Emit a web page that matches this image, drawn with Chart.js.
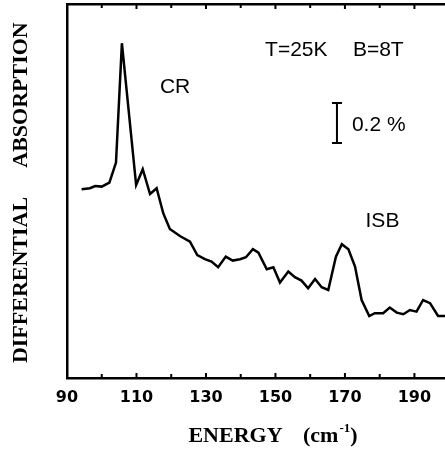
<!DOCTYPE html>
<html>
<head>
<meta charset="utf-8">
<script src="https://cdn.jsdelivr.net/npm/chart.js@4/dist/chart.umd.min.js"></script>
<style>
  html, body { margin: 0; padding: 0; background: #fff; }
  #wrap { width: 445px; height: 450px; }
</style>
</head>
<body>
<div id="wrap"><canvas id="spectrum" width="445" height="450"></canvas></div>
<script>
// 能量 (cm-1)
const energy = [94.2, 96.6, 98.1, 100.0, 102.2, 104.1, 105.8, 109.9, 111.8, 113.9,
  115.8, 117.7, 119.6, 122.5, 125.4, 127.5, 129.7, 131.6, 133.5, 135.7,
  137.7, 139.8, 141.5, 143.5, 145.1, 147.5, 149.4, 151.3, 153.7, 155.6,
  157.5, 159.4, 161.4, 163.3, 165.2, 167.4, 169.1, 171.0, 172.9, 174.8,
  177.0, 178.6, 181.0, 182.9, 184.9, 186.8, 188.7, 190.6, 192.5, 194.5,
  196.8, 198.8];
// 差分吸收 (%)
const absorption = [0.944, 0.949, 0.960, 0.957, 0.977, 1.077, 1.674, 0.965, 1.044, 0.920,
  0.949, 0.824, 0.745, 0.710, 0.682, 0.615, 0.594, 0.582, 0.554, 0.607,
  0.587, 0.594, 0.604, 0.644, 0.627, 0.544, 0.554, 0.477, 0.532, 0.504,
  0.487, 0.449, 0.495, 0.454, 0.440, 0.607, 0.669, 0.644, 0.557, 0.390,
  0.310, 0.324, 0.324, 0.352, 0.327, 0.319, 0.340, 0.332, 0.390, 0.374,
  0.310, 0.310];
// 刻度标签
const tickLabels = [90, 110, 130, 150, 170, 190];
const minorTicks = [100, 120, 140, 160, 180];

const X_MIN = 90, X_MAX = 198.8;
const Y_MIN = 0, Y_MAX = 1.87;

/**
 * 内向刻度 + 注释文字
 */
const decorPlugin = {
  id: 'decor',
  afterDraw(chart) {
    const ctx = chart.ctx;
    const xs = chart.scales.x;
    const ys = chart.scales.y;
    const area = chart.chartArea;

    ctx.save();
    ctx.strokeStyle = '#000';
    ctx.lineWidth = 2;
    // 刻度线(上下都朝里)
    const drawTick = (v, len) => {
      const px = xs.getPixelForValue(v);
      ctx.beginPath();
      ctx.moveTo(px, area.bottom);
      ctx.lineTo(px, area.bottom - len);
      ctx.moveTo(px, area.top);
      ctx.lineTo(px, area.top + len);
      ctx.stroke();
    };
    tickLabels.forEach(v => drawTick(v, 5));
    minorTicks.forEach(v => drawTick(v, 4));

    // 0.2% 标尺
    const bx = xs.getPixelForValue(167.7);
    const b1 = ys.getPixelForValue(1.375);
    const b2 = ys.getPixelForValue(1.175);
    ctx.beginPath();
    ctx.moveTo(bx, b1); ctx.lineTo(bx, b2);
    ctx.moveTo(bx - 5, b1); ctx.lineTo(bx + 5, b1);
    ctx.moveTo(bx - 5, b2); ctx.lineTo(bx + 5, b2);
    ctx.stroke();

    // 图内文字
    ctx.fillStyle = '#000';
    ctx.textBaseline = 'middle';
    ctx.textAlign = 'center';
    ctx.font = '21px "Liberation Sans", Arial, sans-serif';
    ctx.fillText('CR', xs.getPixelForValue(121.1), ys.getPixelForValue(1.455));
    ctx.fillText('T=25K', xs.getPixelForValue(156.0), ys.getPixelForValue(1.6375));
    ctx.fillText('B=8T', xs.getPixelForValue(179.6), ys.getPixelForValue(1.6375));
    ctx.fillText('ISB', xs.getPixelForValue(180.8), ys.getPixelForValue(0.785));
    ctx.textAlign = 'left';
    ctx.fillText('0.2 %', xs.getPixelForValue(172.0), ys.getPixelForValue(1.265));

    // 轴标题
    ctx.font = 'bold 22px "Liberation Serif", "Times New Roman", serif';
    ctx.textAlign = 'center';
    ctx.fillText('ENERGY', 235.5, 436);
    ctx.textAlign = 'left';
    let cx = 303;
    ctx.fillText('(cm', cx, 436);
    cx += ctx.measureText('(cm').width;
    ctx.font = 'bold 13px "Liberation Serif", "Times New Roman", serif';
    ctx.fillText('-1', cx + 1, 429);
    cx += ctx.measureText('-1').width + 1;
    ctx.font = 'bold 22px "Liberation Serif", "Times New Roman", serif';
    ctx.fillText(')', cx, 436);

    ctx.translate(21, 0);
    ctx.rotate(-Math.PI / 2);
    ctx.textAlign = 'center';
    ctx.fillText('DIFFERENTIAL', -280, 0);
    ctx.fillText('ABSORPTION', -95, 0);
    ctx.restore();
  }
};

function drawSpectrum(eleId) {
  const ctx = document.getElementById(eleId).getContext('2d');
  const points = energy.map((e, i) => ({ x: e, y: absorption[i] }));

  const config = {
    type: 'line',
    data: {
      datasets: [{
        data: points,
        borderColor: '#000',
        borderWidth: 2.5,
        pointRadius: 0,
        tension: 0,
        fill: false
      }]
    },
    options: {
      responsive: false,
      animation: false,
      devicePixelRatio: 1,
      layout: { padding: { left: 67, top: 4, right: 0, bottom: 0 } },
      plugins: { legend: { display: false }, tooltip: { enabled: false } },
      scales: {
        x: {
          type: 'linear',
          position: 'bottom',
          min: X_MIN,
          max: X_MAX,
          grid: { display: false, drawTicks: false },
          border: { display: true, color: '#000', width: 2.5 },
          ticks: {
            stepSize: 10,
            includeBounds: false,
            autoSkip: false,
            maxRotation: 0,
            padding: 10,
            color: '#000',
            font: { family: '"DejaVu Sans", sans-serif', size: 16, weight: 'bold' },
            callback: v => tickLabels.includes(v) ? String(v) : ''
          },
          afterFit: scale => { scale.height = 72; }
        },
        xTop: {
          type: 'linear',
          position: 'top',
          min: X_MIN,
          max: X_MAX,
          grid: { display: false, drawTicks: false },
          border: { display: true, color: '#000', width: 2.5 },
          ticks: { display: false },
          afterFit: scale => { scale.height = 0; }
        },
        y: {
          min: Y_MIN,
          max: Y_MAX,
          grid: { display: false, drawTicks: false },
          border: { display: true, color: '#000', width: 2.5 },
          ticks: { display: false },
          afterFit: scale => { scale.width = 0; }
        }
      }
    },
    plugins: [decorPlugin]
  };
  return new Chart(ctx, config);
}

drawSpectrum('spectrum');
</script>
</body>
</html>
